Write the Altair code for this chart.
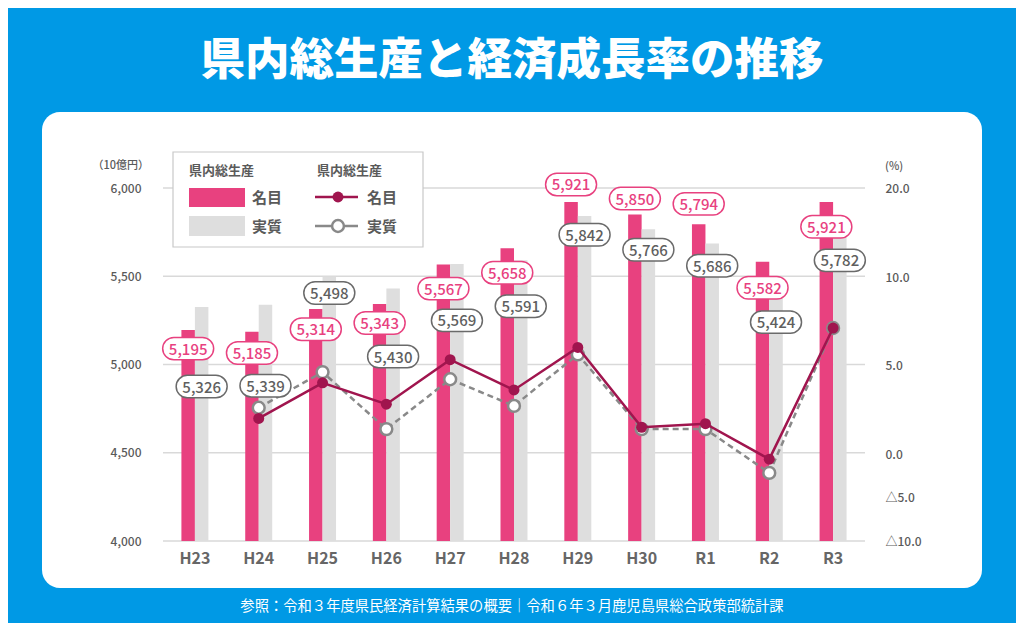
import altair as alt
import pandas as pd

# ---------------- data ----------------
years = ["H23", "H24", "H25", "H26", "H27", "H28", "H29", "H30", "R1", "R2", "R3"]
gdp_nominal = [5195, 5185, 5314, 5343, 5567, 5658, 5921, 5850, 5794, 5582, 5921]
gdp_real = [5326, 5339, 5498, 5430, 5569, 5591, 5842, 5766, 5686, 5424, 5782]
growth_nominal = [None, 2.0, 4.0, 2.8, 5.3, 3.6, 6.0, 1.5, 1.7, -0.6, 7.1]
growth_real = [None, 2.6, 4.6, 1.4, 4.2, 2.7, 5.6, 1.4, 1.4, -2.2, 7.1]
# where each value tag sits (in 10億円 units, on the left axis)
nominal_tag_at = [5090, 5065, 5200, 5235, 5430, 5520, 6020, 5940, 5910, 5435, 5780]
real_tag_at = [4875, 4880, 5405, 5045, 5250, 5330, 5735, 5650, 5560, 5240, 5590]
series = ["名目", "実質"]
left_ticks = [4000, 4500, 5000, 5500, 6000]
right_ticks = [-10, -5, 0, 5, 10, 20]

TITLE = "県内総生産と経済成長率の推移"
FOOTER = "参照：令和３年度県民経済計算結果の概要｜令和６年３月鹿児島県総合政策部統計課"

# ---------------- styles ----------------
FONT = "Noto Sans CJK JP"
BLUE = "#0099E5"
PINK = "#E8417F"
GRAY_BAR = "#DEDEDE"
DARK = "#A0154E"
GRAY_LINE = "#898989"
TXT = "#5a5a5a"
W, H = 702, 353

rows = []
for i, yr in enumerate(years):
    rows.append(dict(year=yr, series="名目", value=gdp_nominal[i], tag_at=nominal_tag_at[i],
                     label=f"{gdp_nominal[i]:,}"))
    rows.append(dict(year=yr, series="実質", value=gdp_real[i], tag_at=real_tag_at[i],
                     label=f"{gdp_real[i]:,}"))
bar_df = pd.DataFrame(rows)
nom_df = pd.DataFrame({"year": years, "growth": growth_nominal}).dropna()
real_df = pd.DataFrame({"year": years, "growth": growth_real}).dropna()
grid_df = pd.DataFrame({"v": left_ticks})
year_df = pd.DataFrame({"year": years})
one = pd.DataFrame({"k": [0]})

left_scale = alt.Scale(domain=[4000, 6000], zero=False, nice=False)
right_scale = alt.Scale(domain=right_ticks, range=[353, 309, 266, 177, 89, 0])

x_plain = alt.X("year:N", sort=years, axis=None)
xoff = alt.XOffset("series:N", sort=series, scale=alt.Scale(paddingInner=0, paddingOuter=0))

# ---------------- background card & texts ----------------
card = alt.Chart(one).mark_rect(color="white", cornerRadius=18).encode(
    x=alt.value(-121), x2=alt.value(819), y=alt.value(-76), y2=alt.value(400))

title_t = alt.Chart(one).mark_text(text=TITLE, font=FONT, fontSize=44.5, fontWeight=900,
                                   color="white", align="center", baseline="middle").encode(
    x=alt.value(349), y=alt.value(-126))

footer_t = alt.Chart(one).mark_text(text=FOOTER, font=FONT, fontSize=14.3, fontWeight=400,
                                    color="white", align="center", baseline="middle").encode(
    x=alt.value(349), y=alt.value(419))

unit_l = alt.Chart(one).mark_text(text="（10億円）", font=FONT, fontSize=11, fontWeight=500,
                                  color=TXT, align="right", baseline="middle").encode(
    x=alt.value(-14), y=alt.value(-22))
unit_r = alt.Chart(one).mark_text(text="(%)", font=FONT, fontSize=11, fontWeight=500,
                                  color=TXT, align="left", baseline="middle").encode(
    x=alt.value(722), y=alt.value(-21))

# ---------------- grid ----------------
grid = alt.Chart(grid_df).mark_rule(color="#d9d9d9", strokeWidth=1.5).encode(
    y=alt.Y("v:Q", scale=left_scale, axis=None))

# ---------------- bars ----------------
bars = alt.Chart(bar_df).mark_bar().encode(
    x=alt.X("year:N", sort=years,
            scale=alt.Scale(paddingInner=0.577, paddingOuter=0.2885), axis=None),
    xOffset=xoff,
    y=alt.Y("value:Q", scale=left_scale,
            axis=alt.Axis(orient="left", values=left_ticks, title=None,
                          labelExpr="format(datum.value, ',')",
                          domain=False, ticks=False, grid=False, labelFont=FONT, zindex=1,
                          labelFontSize=12, labelFontWeight=500, labelColor=TXT,
                          labelPadding=22)),
    y2=alt.datum(4000),
    color=alt.Color("series:N", sort=series,
                    scale=alt.Scale(domain=series, range=[PINK, GRAY_BAR]), legend=None),
)

# category labels under the plot (x axis)
x_labels = alt.Chart(year_df).mark_text(font=FONT, fontSize=16, fontWeight="bold",
                                        color="#666666", align="center", baseline="middle").encode(
    x=x_plain, y=alt.value(371), text="year:N")

# ---------------- growth lines ----------------
line_real = alt.Chart(real_df).mark_line(color=GRAY_LINE, strokeWidth=2.5, strokeDash=[6, 4]).encode(
    x=x_plain, y=alt.Y("growth:Q", scale=right_scale, axis=None))
pts_real = alt.Chart(real_df).mark_point(filled=True, fill="white", stroke=GRAY_LINE,
                                         strokeWidth=2.5, size=140, opacity=1).encode(
    x=x_plain, y=alt.Y("growth:Q", scale=right_scale, axis=None))
line_nom = alt.Chart(nom_df).mark_line(color=DARK, strokeWidth=2.5).encode(
    x=x_plain,
    y=alt.Y("growth:Q", scale=right_scale,
            axis=alt.Axis(orient="right", values=right_ticks, title=None, domain=False,
                          ticks=False, grid=False, labelFont=FONT, labelFontSize=12, zindex=1,
                          labelFontWeight=500, labelColor=TXT, labelPadding=20,
                          labelExpr="datum.value < 0 ? '△' + format(-datum.value, '.1f') : format(datum.value, '.1f')")))
pts_nom = alt.Chart(nom_df).mark_circle(color=DARK, size=120, opacity=1).encode(
    x=x_plain, y=alt.Y("growth:Q", scale=right_scale, axis=None))

# ---------------- value tags ----------------
TAG = "M-0.56,-0.44L0.56,-0.44A0.44,0.44,0,0,1,0.56,0.44L-0.56,0.44A0.44,0.44,0,0,1,-0.56,-0.44Z"
tags = alt.Chart(bar_df).mark_point(shape=TAG, size=2601, filled=False, fill="white",
                                    fillOpacity=1, strokeWidth=1.5, opacity=1).encode(
    x=x_plain, xOffset=xoff,
    y=alt.Y("tag_at:Q", scale=left_scale, axis=None),
    stroke=alt.Stroke("series:N", sort=series,
                      scale=alt.Scale(domain=series, range=[PINK, "#6a6a6a"]), legend=None))
tag_text = alt.Chart(bar_df).mark_text(font=FONT, fontSize=15, fontWeight=500,
                                       align="center", baseline="middle", dy=1).encode(
    x=x_plain, xOffset=xoff,
    y=alt.Y("tag_at:Q", scale=left_scale, axis=None),
    text="label:N",
    fill=alt.Fill("series:N", sort=series,
                  scale=alt.Scale(domain=series, range=[PINK, "#5f5f5f"]), legend=None))

# ---------------- legend ----------------
def txt(s, x, y, size, weight="bold"):
    return alt.Chart(one).mark_text(text=s, font=FONT, fontSize=size, fontWeight=weight,
                                    color=TXT, align="left", baseline="middle").encode(
        x=alt.value(x), y=alt.value(y))

leg_box = alt.Chart(one).mark_rect(fill="white", stroke="#c8c8c8", strokeWidth=1.2).encode(
    x=alt.value(10), x2=alt.value(260), y=alt.value(-36), y2=alt.value(59))
sw_pink = alt.Chart(one).mark_rect(color=PINK).encode(
    x=alt.value(26), x2=alt.value(82), y=alt.value(0), y2=alt.value(19))
sw_gray = alt.Chart(one).mark_rect(color=GRAY_BAR).encode(
    x=alt.value(26), x2=alt.value(82), y=alt.value(28), y2=alt.value(48))
lg_line_nom = alt.Chart(one).mark_rule(color=DARK, strokeWidth=2.5).encode(
    x=alt.value(152), x2=alt.value(195), y=alt.value(9))
lg_pt_nom = alt.Chart(one).mark_circle(color=DARK, size=120, opacity=1).encode(
    x=alt.value(175), y=alt.value(9))
lg_line_real = alt.Chart(one).mark_rule(color=GRAY_LINE, strokeWidth=2.5).encode(
    x=alt.value(152), x2=alt.value(195), y=alt.value(38))
lg_pt_real = alt.Chart(one).mark_point(filled=True, fill="white", stroke=GRAY_LINE,
                                       strokeWidth=2.5, size=140, opacity=1).encode(
    x=alt.value(175), y=alt.value(38))

legend_layers = [
    leg_box, sw_pink, sw_gray, lg_line_nom, lg_pt_nom, lg_line_real, lg_pt_real,
    txt("県内総生産", 26, -17, 13), txt("県内総生産", 154, -17, 13),
    txt("名目", 89, 10, 15), txt("実質", 89, 39, 15),
    txt("名目", 204, 10, 15), txt("実質", 204, 39, 15),
]

chart = alt.layer(
    card, title_t, footer_t, unit_l, unit_r, grid, bars, x_labels,
    line_real, pts_real, line_nom, pts_nom, tags, tag_text, *legend_layers
).resolve_scale(y="independent").properties(
    width=W, height=H,
    autosize=alt.AutoSizeParams(type="none"),
    padding={"left": 155, "top": 180, "right": 151, "bottom": 82},
).configure(background=BLUE).configure_view(stroke=None)

chart.save("out.html", embed_options={"renderer": "svg", "actions": False})
